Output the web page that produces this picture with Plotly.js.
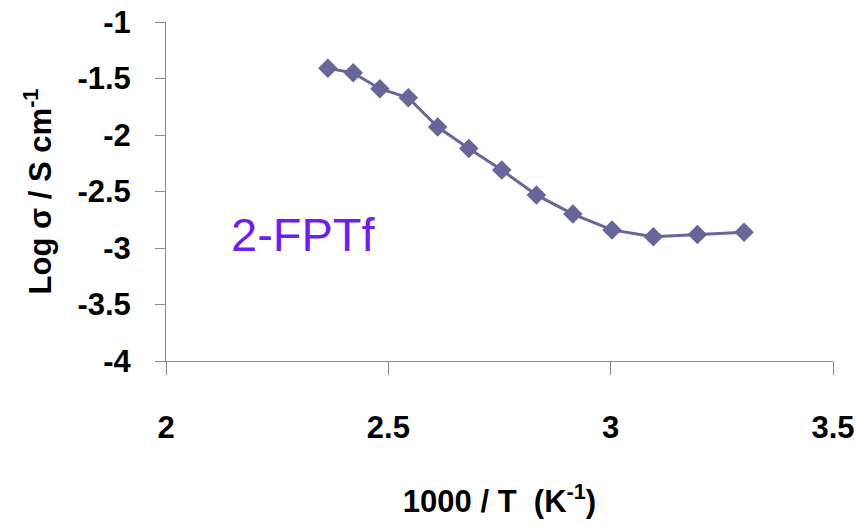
<!DOCTYPE html>
<html>
<head>
<meta charset="utf-8">
<script src="https://cdn.plot.ly/plotly-3.0.1.min.js"></script>
<style>
  html, body { margin: 0; padding: 0; background: #fff; }
  #chart { width: 859px; height: 529px; }
</style>
</head>
<body>
<div id="chart"></div>
<script>
// Conductivity of 2-FPTf vs inverse temperature
const invTemp = [2.364, 2.421, 2.481, 2.545, 2.611, 2.681, 2.755, 2.833, 2.915, 3.003, 3.096, 3.195, 3.300];
const logSigma = [-1.41, -1.45, -1.59, -1.67, -1.93, -2.12, -2.31, -2.53, -2.70, -2.84, -2.90, -2.88, -2.86];
const xTicks = [2, 2.5, 3, 3.5];
const yTicks = [-1, -1.5, -2, -2.5, -3, -3.5, -4];
const sampleName = '2-FPTf';

const labelFont = { family: 'Liberation Sans, Arial, sans-serif', size: 31, color: '#000', weight: 'bold' };
const axisColor = '#888888';

const trace = {
  x: invTemp,
  y: logSigma,
  type: 'scatter',
  mode: 'lines+markers',
  line: { color: '#666699', width: 3 },
  marker: { symbol: 'diamond', size: 15, color: '#666699' },
  showlegend: false,
  hoverinfo: 'x+y'
};

const layout = {
  width: 859,
  height: 529,
  margin: { l: 166, r: 26, t: 22, b: 168 },
  paper_bgcolor: '#fff',
  plot_bgcolor: '#fff',
  xaxis: {
    range: [2, 3.5],
    tickvals: xTicks,
    ticktext: xTicks.map(String),
    showgrid: false,
    zeroline: false,
    showline: true,
    linecolor: axisColor,
    linewidth: 1,
    ticks: 'outside',
    ticklen: 13,
    tickcolor: axisColor,
    tickfont: labelFont,
    ticklabelstandoff: 26,
    title: { text: '1000 / T  (K<sup>-1</sup>)', font: labelFont, standoff: 46 }
  },
  yaxis: {
    range: [-4, -1],
    tickvals: yTicks,
    ticktext: yTicks.map(String),
    showgrid: false,
    zeroline: false,
    showline: true,
    linecolor: axisColor,
    linewidth: 1,
    ticks: 'outside',
    ticklen: 10,
    tickcolor: axisColor,
    tickfont: labelFont,
    ticklabelstandoff: 18,
    title: { text: 'Log σ / S cm<sup>-1</sup>', font: labelFont, standoff: 16 }
  },
  annotations: [{
    x: 2.310,
    y: -2.88,
    xref: 'x',
    yref: 'y',
    text: sampleName,
    showarrow: false,
    font: { family: 'Liberation Sans, Arial, sans-serif', size: 47, color: '#6e1ef5' }
  }]
};

Plotly.newPlot('chart', [trace], layout, { displayModeBar: false, staticPlot: true });
</script>
</body>
</html>
